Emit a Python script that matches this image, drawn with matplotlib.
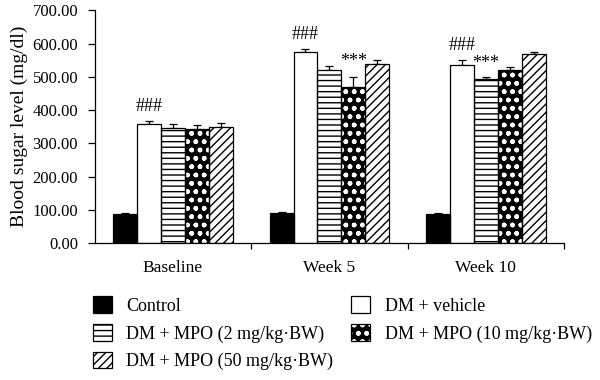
import matplotlib
matplotlib.use("Agg")
import matplotlib.pyplot as plt
from matplotlib.patches import Patch
from matplotlib.legend_handler import HandlerTuple
import numpy as np

plt.rcParams['font.family'] = ['Liberation Serif', 'DejaVu Serif']
plt.rcParams['hatch.linewidth'] = 1.0

groups = ["Baseline", "Week 5", "Week 10"]
series = ["Control", "DM + vehicle", "DM + MPO (2 mg/kg\u00b7BW)",
          "DM + MPO (10 mg/kg\u00b7BW)", "DM + MPO (50 mg/kg\u00b7BW)"]
control = [88, 92, 88]
vehicle = [357, 575, 535]
mpo2 = [347, 521, 493]
mpo10 = [344, 468, 520]
mpo50 = [349, 540, 570]
err_control = [3, 3, 3]
err_vehicle = [10, 10, 15]
err_mpo2 = [12, 12, 6]
err_mpo10 = [12, 32, 8]
err_mpo50 = [12, 12, 6]
hash_marks = ["###", "###", "###"]          # over DM + vehicle
star_mpo10 = ["", "***", ""]
star_mpo2 = ["", "", "***"]
yticks = [0, 100, 200, 300, 400, 500, 600, 700]

values = [control, vehicle, mpo2, mpo10, mpo50]
errs = [err_control, err_vehicle, err_mpo2, err_mpo10, err_mpo50]

styles = [
    dict(facecolor='black', hatch=None, hcolor='black'),
    dict(facecolor='white', hatch=None, hcolor='black'),
    dict(facecolor='white', hatch='---', hcolor='black'),
    dict(facecolor='black', hatch='oo..', hcolor='white'),
    dict(facecolor='white', hatch='////', hcolor='black'),
]

fig = plt.figure(figsize=(6, 3.8), dpi=100)
ax = fig.add_axes([0.158, 0.36, 0.782, 0.613])

x = np.arange(len(groups))
w = 0.153
for j, (vals, er, st) in enumerate(zip(values, errs, styles)):
    pos = x + (j - 2) * w
    ax.bar(pos, vals, w, facecolor=st['facecolor'], edgecolor=st['hcolor'],
           hatch=st['hatch'], linewidth=0, zorder=2)
    ax.bar(pos, vals, w, facecolor='none', edgecolor='black', linewidth=0.9, zorder=3)
    ax.errorbar(pos, vals, yerr=[np.zeros(len(er)), er], fmt='none', ecolor='black',
                elinewidth=0.9, capsize=3, capthick=0.9, zorder=1)

afs = 13
for i in range(len(groups)):
    if hash_marks[i]:
        ax.text(x[i] - w, vehicle[i] + err_vehicle[i] + 30, hash_marks[i],
                ha='center', va='baseline', fontsize=afs)
    if star_mpo10[i]:
        ax.text(x[i] + w, mpo10[i] + err_mpo10[i] + 34, star_mpo10[i],
                ha='center', va='baseline', fontsize=afs)
    if star_mpo2[i]:
        ax.text(x[i], mpo2[i] + err_mpo2[i] + 26, star_mpo2[i],
                ha='center', va='baseline', fontsize=afs)

ax.set_xlim(-0.5, 2.5)
ax.set_ylim(0, 700)
ax.set_yticks(yticks)
ax.set_yticklabels([f"{t:.2f}" for t in yticks], fontsize=12)
ax.set_xticks(x)
ax.set_xticklabels(groups, fontsize=12.5)
ax.set_xticks([0.5, 1.5, 2.5], minor=True)
ax.tick_params(axis='x', which='major', length=0, pad=12)
ax.tick_params(axis='x', which='minor', length=4, width=0.9, direction='out')
ax.tick_params(axis='y', length=5, width=0.9, direction='out', pad=7)
for s in ['top', 'right']:
    ax.spines[s].set_visible(False)
for s in ['left', 'bottom']:
    ax.spines[s].set_linewidth(0.9)
ax.set_ylabel("Blood sugar level (mg/dl)", fontsize=14, labelpad=3)

handles = []
for st in styles:
    fill = Patch(facecolor=st['facecolor'], edgecolor=st['hcolor'],
                 hatch=st['hatch'], linewidth=0)
    outline = Patch(facecolor='none', edgecolor='black', linewidth=0.9)
    handles.append((fill, outline))
# order to fill rows: Control, vehicle / mpo2, mpo10 / mpo50
order = [0, 2, 4, 1, 3]
leg = fig.legend([handles[k] for k in order], [series[k] for k in order],
                 handler_map={tuple: HandlerTuple(ndivide=1, pad=0)},
                 loc='upper left', bbox_to_anchor=(0.155, 0.22), ncol=2,
                 frameon=False, fontsize=13, handlelength=1.05, handleheight=1.05,
                 handletextpad=0.8, columnspacing=1.0, labelspacing=0.5,
                 borderaxespad=0, borderpad=0)

fig.savefig("out.png", dpi=100)
